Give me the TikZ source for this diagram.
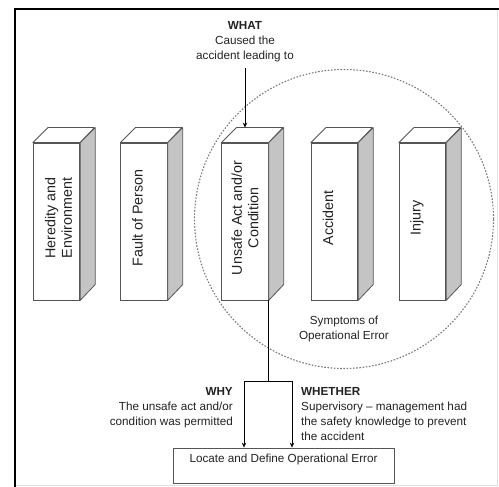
\documentclass[tikz,border=0pt]{standalone}
\usepackage{fontspec}
\setmainfont{Liberation Sans}
\usetikzlibrary{arrows.meta}
\definecolor{edgegray}{HTML}{555555}
\definecolor{sidegray}{HTML}{C4C4C4}
\definecolor{ringgray}{HTML}{7A7A7A}
\definecolor{inkgray}{HTML}{222222}
\begin{document}
\begin{tikzpicture}[x=1pt,y=-1pt,
  block/.style={draw=edgegray, fill=white, line width=0.8pt,
    minimum width=46.5pt, minimum height=157pt, inner sep=0pt},
  face/.style={draw=edgegray, line width=0.8pt, line join=round},
  vlabel/.style={rotate=90, align=center, text=inkgray, inner sep=0pt,
    font=\fontsize{14.3}{16.7}\selectfont},
  note/.style={text=inkgray, inner sep=0pt, font=\fontsize{11.7}{15}\selectfont},
  conn/.style={draw=black, line width=0.8pt},
  arrow/.style={conn, -{Stealth[length=5pt,width=4.5pt]}}
]
\useasboundingbox (0,0) rectangle (499,487);

% page frame
\draw[gray!25, line width=0.8pt] (497,9) -- (497,485) -- (15,485);
\draw[line width=1.8pt] (15,487) -- (15,9) -- (499,9);

% symptoms ring
\node[circle, draw=ringgray, line width=1.1pt, dash pattern=on 1.6pt off 1.6pt,
  minimum size=299pt, inner sep=0pt] (ring) at (344,219) {};

% front faces of the five blocks
\node[block] (b1) at (56.5,221.5) {};
\node[block] (b2) at (144,221.5) {};
\node[block] (b3) at (245,221.5) {};
\node[block] (b4) at (334.5,221.5) {};
\node[block] (b5) at (422.5,221.5) {};

% top and side faces
\foreach \b in {b1,b2,b3,b4,b5} {
  \draw[face, fill=white] (\b.north west) -- ++(15,-15) -- ++(46.5,0)
    -- (\b.north east) -- cycle;
  \draw[face, fill=sidegray] (\b.north east) -- ++(15,-15) -- ++(0,157)
    -- (\b.south east) -- cycle;
}

% block labels
\node[vlabel] (t1) at (58.5,218) {Heredity and\\Environment};
\node[vlabel] (t2) at (137.5,218) {Fault of Person};
\node[vlabel] (t3) at (245,218) {Unsafe Act and/or\\Condition};
\node[vlabel] (t4) at (328,218) {Accident};
\node[vlabel] (t5) at (417,218) {Injury};

\node[note, align=center, anchor=north] (symptoms) at (344,315.6)
  {Symptoms of\\Operational Error};

% WHAT question
\node[note, align=center, anchor=north] (what) at (245,21.5)
  {\textbf{WHAT}\\Caused the\\accident leading to};
\path (b3.north west) ++(15,-15) coordinate (b3back);
\draw[arrow, shorten <=6pt] (what) -- (what |- b3back);

% result box
\node[draw=edgegray, line width=0.8pt, minimum width=221pt, minimum height=35pt,
  text height=8.4pt, text depth=14pt, inner sep=0pt, text=inkgray,
  font=\fontsize{11.7}{15}\selectfont] (loc) at (283.5,465.5)
  {Locate and Define Operational Error};

% split below the unsafe act block
\coordinate (jl) at (244,381);
\coordinate (jr) at (292,381);
\coordinate (split) at (b3.south east |- jl);
\draw[conn] (b3.south east) -- (split);
\draw[conn] (jl) -- (jr);
\draw[arrow] (jl) -- (jl |- loc.north);
\draw[arrow] (jr) -- (jr |- loc.north);

% WHY / WHETHER questions
\node[note, align=right, anchor=north east] (why) at (233,387.6)
  {\textbf{WHY}\\The unsafe act and/or\\condition was permitted};
\node[note, align=left, anchor=north west] (whether) at (301,387.6)
  {\textbf{WHETHER}\\Supervisory -- management had\\the safety knowledge to prevent\\the accident};
\end{tikzpicture}
\end{document}
